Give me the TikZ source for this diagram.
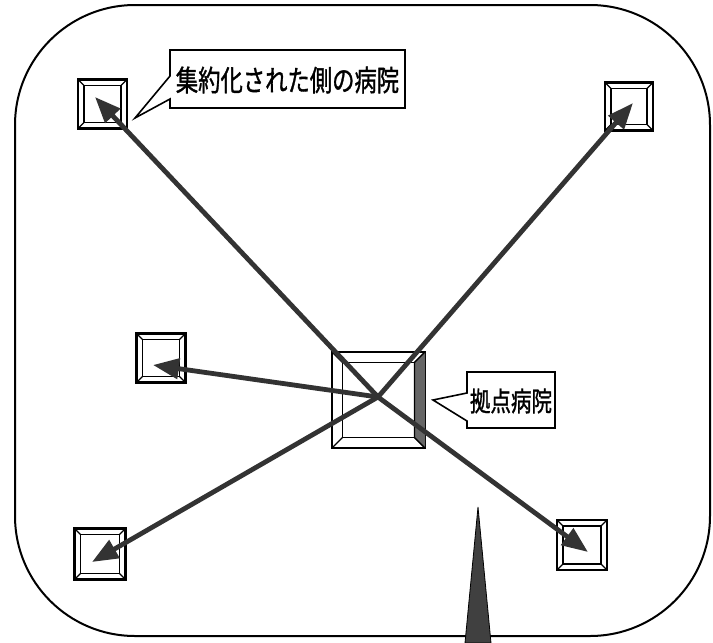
\documentclass[tikz,border=0pt]{standalone}
\usepackage{graphicx}
\usepackage{fontspec}
\setmainfont{Noto Sans CJK JP}
\newfontfamily\labfont{Noto Sans CJK JP}[FakeBold=1.3]
\usetikzlibrary{calc,arrows.meta}
\tikzset{
  hosp/.style={draw, line width=2.2pt, fill=white, minimum width=#1, minimum height=#1, inner sep=0pt, outer sep=0pt},
  link/.style={draw=black!80, line width=4.8pt, -{Triangle[length=26pt,width=20pt]}},
  calloutline/.style={draw, line width=1.6pt, fill=white, line join=miter},
  label/.style={inner sep=0pt, outer sep=0pt},
  frame/.style={draw, line width=2pt, rounded corners=120pt},
  bevelline/.style={line width=1.2pt}
}
\newcommand\mybevel[2]{%
  \draw[bevelline] ($(#1.north west)+(#2,#2)$) coordinate (#1i1) -- ($(#1.north east)+(-#2,#2)$) coordinate (#1i2) -- ($(#1.south east)+(-#2,-#2)$) coordinate (#1i3) -- ($(#1.south west)+(#2,-#2)$) coordinate (#1i4) -- cycle;
  \draw[bevelline] (#1.north west) -- (#1i1) (#1.north east) -- (#1i2) (#1.south east) -- (#1i3) (#1.south west) -- (#1i4);}
\newcommand\labtext[3]{\scalebox{#2}[1]{\labfont\fontsize{#1}{#1}\selectfont #3}}
\begin{document}
\begin{tikzpicture}[x=1pt,y=-1pt]
\useasboundingbox (0,0) rectangle (713,643);
% outer frame
\draw[frame] (15,5) rectangle (710,636);
% hospitals
\node[hosp=49] (tl) at (102.5,104) {};
\node[hosp=48] (tr) at (629,106.5) {};
\node[hosp=49] (ml) at (161,358) {};
\node[hosp=51] (bl) at (100,554) {};
\node[hosp=50] (br) at (582,545) {};
\foreach \n in {tl,tr,ml,bl,br}{\mybevel{\n}{6}}
% hub
\node[draw, line width=1.8pt, fill=white, minimum width=93pt, minimum height=96pt, inner sep=0pt, outer sep=0pt] (hub) at (378.5,400) {};
\mybevel{hub}{10.5}
\fill[black!60] (hub.north east) -- (hubi2) -- (hubi3) -- (hub.south east) -- cycle;
\draw[bevelline] (hub.north east) -- (hubi2) -- (hubi3) -- (hub.south east);
% arrows
\coordinate (x) at (378,397);
\coordinate (ttl) at (95,97);
\coordinate (ttr) at (633,103);
\coordinate (tml) at (153,365);
\coordinate (tbl) at (92,562);
\coordinate (tbr) at (588,552);
\draw[link] (x) -- (ttl);
\draw[link] (x) -- (ttr);
\draw[link] (x) -- (tml);
\draw[link] (x) -- (tbl);
\draw[link] (x) -- (tbr);
% callouts
\node[label, minimum width=235pt, minimum height=58pt] (lab1) at (287.5,79) {};
\coordinate (p1) at (135,118);
\draw[calloutline] (lab1.north west) -- (lab1.north east) -- (lab1.south east) -- (lab1.south west) -- ($(lab1.south west)+(0,-9)$) -- (p1) -- ($(lab1.north west)+(0,26)$) -- cycle;
\node[label] at ($(lab1.center)+(0,1)$) {\labtext{29pt}{0.77}{集約化された側の病院}};
\node[label, minimum width=88pt, minimum height=56pt] (lab2) at (511,400) {};
\coordinate (p2) at (433,400);
\draw[calloutline] (lab2.north west) -- (lab2.north east) -- (lab2.south east) -- (lab2.south west) -- ($(lab2.south west)+(0,-7)$) -- (p2) -- ($(lab2.north west)+(0,21)$) -- cycle;
\node[label] at ($(lab2.center)+(0,1)$) {\labtext{27pt}{0.76}{拠点病院}};
% spike
\filldraw[fill=black!75, draw=black, line width=0.8pt] (465,643) -- (478,507) -- (491,643) -- cycle;
\end{tikzpicture}
\end{document}
